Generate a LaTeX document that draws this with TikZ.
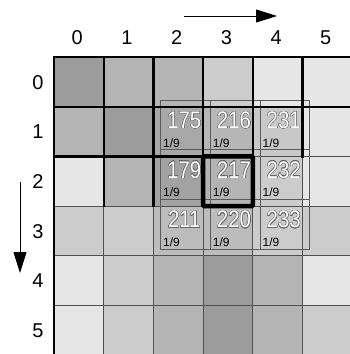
\documentclass[tikz,border=0pt]{standalone}
\usepackage{fontspec}
\setmainfont{Liberation Sans}
\usepackage{contour}
\contourlength{0.45pt}
\contournumber{16}
\usetikzlibrary{arrows.meta}
\definecolor{gA}{HTML}{9C9C9C}
\definecolor{gB}{HTML}{B4B4B4}
\definecolor{gC}{HTML}{CCCCCC}
\definecolor{gD}{HTML}{E6E6E6}
\definecolor{kA}{HTML}{A8A8A8}
\definecolor{kB}{HTML}{B6B6B6}
\definecolor{kC}{HTML}{C8C8C8}
\definecolor{kD}{HTML}{A2A2A2}
\definecolor{kE}{HTML}{BCBCBC}
\definecolor{thinc}{HTML}{505050}
\definecolor{kline}{HTML}{5A5A5A}
\definecolor{outl}{HTML}{666666}
\begin{document}
\begin{tikzpicture}[x=1pt,y=-1pt,
  thinline/.style={draw=thinc,line width=0.8pt},
  thickline/.style={draw=black,line width=2.3pt,line cap=rect},
  kbox/.style={draw=kline,line width=0.8pt},
  centerbox/.style={draw=black,line width=4.5pt,rounded corners=1pt},
  lbl/.style={font=\fontsize{20}{20}\selectfont,inner sep=0pt,anchor=base},
  val/.style={font=\fontsize{24}{24}\selectfont,inner sep=0pt,anchor=base},
  wt/.style={font=\fontsize{12}{12}\selectfont,inner sep=0pt,anchor=base west},
  arr/.style={draw=black,line width=1pt,-{Triangle[length=21pt,width=13pt]}}]
\useasboundingbox (0,0) rectangle (349,354);
% cells
\foreach \r/\c/\col in {
  0/0/gA,0/1/gB,0/2/gB,0/3/gC,0/4/gD,0/5/gD,
  1/0/gB,1/1/gA,1/2/kA,1/3/kB,1/4/kC,1/5/gD,
  2/0/gD,2/1/gB,2/2/kD,2/3/gB,2/4/gC,2/5/gD,
  3/0/gC,3/1/gC,3/2/kE,3/3/kE,3/4/gC,3/5/gC,
  4/0/gD,4/1/gC,4/2/gB,4/3/gA,4/4/gB,4/5/gD,
  5/0/gD,5/1/gC,5/2/gB,5/3/gA,5/4/gB,5/5/gC}
  \fill[\col] (54+49.7*\c,57+49.7*\r) rectangle ++(49.7,49.7);
% thin grid
\foreach \i in {0,...,6} {
  \draw[thinline] (54+49.7*\i,57) -- (54+49.7*\i,360);
  \draw[thinline] (54,57+49.7*\i) -- (360,57+49.7*\i);
}
% kernel boxes
\foreach \i in {0,1,2} \foreach \j in {0,1,2}
  \draw[kbox] (160.5+49.7*\i,100+49.7*\j) rectangle ++(49.7,49.7);
% thick lines
\draw[thickline] (54,57) -- (360,57);
\draw[thickline] (54,57) -- (54,360);
\draw[thickline] (54,106.7) -- (360,106.7);
\draw[thickline] (54,156.4) -- (252.8,156.4);
\foreach \x in {103.7,153.4,203.1,252.8,302.5}
  \draw[thickline] (\x,57) -- (\x,156.4);
\foreach \x in {103.7,153.4}
  \draw[thickline] (\x,156.4) -- (\x,206.1);
% values and weights
\foreach \v [count=\n from 0] in {175,216,231,179,217,232,211,220,233} {
  \pgfmathtruncatemacro\ci{mod(\n,3)}
  \pgfmathtruncatemacro\ri{div(\n,3)}
  \node[val] (val\n) at (160.5+49.7*\ci+23.8,100+49.7*\ri+28.5)
    {\scalebox{0.85}[1]{\contour{outl}{\textcolor{white}{\v}}}};
  \node[wt] (wt\n) at (160.5+49.7*\ci+2.5,100+49.7*\ri+47) {1/9};
}
% center box
\draw[centerbox] (203.1,156.4) rectangle (252.8,206.1);
% labels
\foreach \k in {0,...,5} {
  \node[lbl] (col\k) at (54+49.7*\k+23.3,44) {\k};
  \node[lbl] (row\k) at (38,57+49.7*\k+32) {\k};
}
% arrows
\coordinate (h1) at (184,16);
\coordinate (h2) at (277,16);
\draw[arr] (h1) -- (h2);
\coordinate (v1) at (20,182);
\coordinate (v2) at (20,273);
\draw[arr] (v1) -- (v2);
\end{tikzpicture}
\end{document}
